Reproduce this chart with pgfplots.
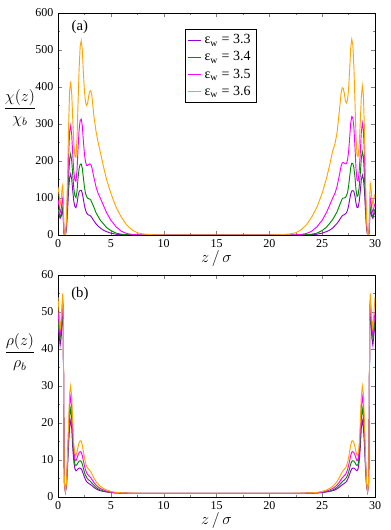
\documentclass[border=0pt]{standalone}
\usepackage{amsmath}
\usepackage{pgfplots}
\pgfplotsset{compat=1.18}
\usepackage{pgfplotstable}
\usepackage{fontspec}
\setmainfont{Liberation Serif}

\definecolor{gviolet}{RGB}{148,0,211}
\definecolor{ggreen}{RGB}{0,139,0}
\definecolor{gmagenta}{RGB}{255,0,255}
\definecolor{gorange}{RGB}{255,165,0}

% chi(z)/chi_b, columns: z, eps=3.3, 3.4, 3.5, 3.6
\pgfplotstableread{
z a b c d
0    60 70 95 130
0.1  55 60 80 110
0.2  45 50 60 80
0.3  50 55 70 95
0.4  62 70 95 130
0.45 65 75 100 135
0.5  48 55 75 100
0.55 8 10 15 20
0.6  1 1 2 2
0.7  0 0 0 0
0.8  18 22 30 40
0.9  65 80 110 150
1.0  120 155 210 290
1.1  155 205 280 390
1.2  165 219 295 415
1.3  150 200 270 380
1.4  118 160 215 310
1.5  90 125 170 245
1.6  77 106 148 212
1.7  74 101 145 210
1.8  85 118 175 260
1.9  105 155 235 360
2.0  117 180 285 450
2.1  121 191 310 510
2.2  121 192 313 525
2.3  113 180 295 500
2.4  97 155 255 440
2.5  80 130 220 390
2.6  68 113 198 360
2.7  60 104 188 350
2.8  56 100 188 355
2.9  54 98 190 375
3.0  53 97 192 388
3.1  51 95 191 390
3.2  47 88 183 378
3.4  38 75 155 320
3.6  30 60 130 280
3.8  24 50 112 250
4.0  19 40 100 225
4.3  13 30 80 185
4.6  9 20 60 150
5.0  5 12 40 113
5.5  2 5 22 75
6.0  0.8 2 10 48
6.5  0.3 0.8 4 27
7.0  0 0.3 1.5 14
7.5  0 0 0.5 6
8.0  0 0 0 3
9.0  0 0 0 0.5
10   0 0 0 0
20   0 0 0 0
21   0 0 0 0.5
22   0 0 0 3
22.5 0 0 0.5 6
23   0 0.3 1.5 14
23.5 0.3 0.8 4 27
24   0.8 2 10 48
24.5 2 5 22 75
25   5 12 40 113
25.4 9 21 60 152
25.7 13 31 80 188
26   19 42 100 228
26.2 25 52 112 245
26.4 31 62 130 275
26.6 39 77 158 328
26.8 48 91 187 386
26.9 52 98 195 398
27.0 54 100 196 396
27.1 55 100 194 382
27.2 57 102 192 362
27.3 60 106 193 357
27.4 67 115 203 365
27.5 79 132 225 395
27.6 95 157 262 445
27.7 111 182 302 505
27.8 119 194 320 529
27.9 120 193 317 515
28.0 117 182 292 455
28.1 106 158 240 365
28.2 86 122 180 265
28.3 74 104 148 215
28.4 75 108 146 212
28.5 89 128 170 240
28.6 116 163 218 300
28.7 148 205 275 370
28.8 162 225 302 403
28.9 152 212 285 380
29.0 120 160 215 285
29.1 65 82 112 150
29.2 18 23 30 40
29.3 0 0 0 0
29.4 1 1 2 2
29.45 8 10 15 20
29.5 48 55 75 100
29.55 65 75 100 140
29.6 62 70 95 135
29.7 50 55 70 100
29.8 45 50 60 80
29.9 55 60 75 100
30   60 70 85 110
}\chitab

% rho(z)/rho_b, same columns
\pgfplotstableread{
z a b c d
0    47 48 50 54
0.1  44 45 47 50
0.2  41 43 44 45
0.3  43 45 46 48
0.4  49 50 51 53
0.45 52 52.5 53.5 55
0.5  45 46 47 48
0.55 20 20 20 20
0.6  4 4 4 4
0.7  1.5 1.5 1.5 1.5
0.8  3 3.2 3.5 3.8
0.9  8 9 10 11
1.0  14 16 18 20
1.1  19 22 25 28
1.2  20.6 23.8 27 30
1.3  18.5 21 24 27
1.4  13 15 17 19.5
1.5  9.5 11 12.5 14
1.6  7.6 8.8 10.2 11.8
1.7  7.1 8.5 9.8 11.2
1.8  7.3 8.8 10.5 12.2
1.9  7.6 9.3 11.4 13.6
2.0  7.8 9.7 12.0 14.7
2.1  7.8 9.8 12.3 15.2
2.2  7.6 9.6 12.1 15.1
2.3  7.0 8.9 11.2 14.0
2.4  6.2 7.8 9.8 12.3
2.5  5.4 6.7 8.5 10.6
2.6  4.7 5.9 7.4 9.3
2.7  4.2 5.3 6.6 8.4
2.8  3.9 4.9 6.1 7.8
2.9  3.7 4.6 5.8 7.5
3.0  3.5 4.4 5.5 7.2
3.1  3.3 4.1 5.2 6.8
3.2  3.1 3.8 4.8 6.3
3.4  2.6 3.2 3.9 5.1
3.6  2.2 2.6 3.2 4.2
3.8  1.9 2.2 2.7 3.5
4.0  1.7 1.9 2.3 2.9
4.3  1.5 1.6 1.9 2.3
4.6  1.35 1.45 1.6 1.9
5.0  1.2 1.25 1.3 1.5
5.5  1.1 1.1 1.15 1.25
6.0  1.05 1.05 1.07 1.12
7.0  1 1 1.02 1.04
8.0  1 1 1 1.01
22   1 1 1 1.01
23   1 1 1.02 1.04
24   1.05 1.05 1.07 1.12
24.5 1.1 1.1 1.15 1.25
25   1.2 1.25 1.3 1.5
25.4 1.35 1.45 1.6 1.9
25.7 1.5 1.6 1.9 2.3
26   1.7 1.9 2.3 2.9
26.2 1.9 2.2 2.7 3.5
26.4 2.2 2.6 3.2 4.2
26.6 2.6 3.2 3.9 5.1
26.8 3.1 3.8 4.8 6.3
26.9 3.3 4.1 5.2 6.8
27.0 3.5 4.4 5.5 7.2
27.1 3.7 4.6 5.8 7.5
27.2 3.9 4.9 6.1 7.8
27.3 4.2 5.3 6.6 8.4
27.4 4.7 5.9 7.4 9.3
27.5 5.4 6.7 8.5 10.6
27.6 6.2 7.8 9.8 12.3
27.7 7.0 8.9 11.2 14.0
27.8 7.6 9.6 12.1 15.1
27.9 7.8 9.8 12.3 15.2
28.0 7.8 9.7 12.0 14.7
28.1 7.6 9.3 11.4 13.6
28.2 7.3 8.8 10.5 12.2
28.3 7.1 8.5 9.8 11.2
28.4 7.6 8.8 10.2 11.8
28.5 9.5 11 12.5 14
28.6 13 15 17 19.5
28.7 18.5 21 24 27
28.8 20.6 23.8 27 30
28.9 19 22 25 28
29.0 14 16 18 20
29.1 8 9 10 11
29.2 3 3.2 3.5 3.8
29.3 1.5 1.5 1.5 1.5
29.4 4 4 4 4
29.45 20 20 20 20
29.5 45 46 47 48
29.55 52 52.5 53.5 55
29.6 49 50 51 53
29.7 43 45 46 48
29.8 41 43 44 45
29.9 44 45 47 50
30   47 48 50 54
}\rhotab

\pgfplotsset{
  panel/.style={
    scale only axis,
    width=237.75pt, height=166.5pt,
    xmin=0, xmax=30, xtick={0,5,...,30},
    minor x tick num=1, minor y tick num=1,
    tick align=inside,
    major tick length=3pt, minor tick length=1.5pt,
    tick label style={font=\fontsize{9}{10}\selectfont},
    /pgf/number format/assume math mode=true,
    label style={font=\fontsize{12}{14}\selectfont},
    xlabel={$z\,/\,\sigma$},
    xlabel style={at={(axis description cs:0.5,-0.105)}, anchor=center},
    every axis plot/.append style={line width=0.7pt, mark=none},
  },
}

\begin{document}
\begin{tikzpicture}
\useasboundingbox (0,0) rectangle (292.5pt,397.5pt);

\begin{axis}[panel,
    at={(43.5pt,221.25pt)}, anchor=south west,
    ymin=0, ymax=600, ytick={0,100,...,600},
    ylabel={$\dfrac{\chi(z)}{\chi_b}$},
    ylabel style={rotate=-90, at={(axis description cs:-0.12,0.572)}, anchor=center},
    legend style={at={(axis description cs:0.4006,0.928)}, anchor=north west,
        draw=black, font=\fontsize{10.5}{12}\selectfont, row sep=0.4pt,
        inner xsep=2pt, inner ysep=2pt},
    legend cell align=left,
    legend image code/.code={\draw[#1] (0pt,0pt) -- (9.75pt,0pt);},
]
\addplot[gviolet] table[x=z, y=a] {\chitab};
\addlegendentry{ε\textsubscript{w} = 3.3}
\addplot[ggreen] table[x=z, y=b] {\chitab};
\addlegendentry{ε\textsubscript{w} = 3.4}
\addplot[gmagenta] table[x=z, y=c] {\chitab};
\addlegendentry{ε\textsubscript{w} = 3.5}
\addplot[gorange] table[x=z, y=d] {\chitab};
\addlegendentry{ε\textsubscript{w} = 3.6}
\node[font=\fontsize{11}{13}\selectfont] at (axis description cs:0.069,0.935) {(a)};
\end{axis}

\begin{axis}[panel,
    at={(43.5pt,24.75pt)}, anchor=south west,
    ymin=0, ymax=60, ytick={0,10,...,60},
    ylabel={$\dfrac{\rho(z)}{\rho_b}$},
    ylabel style={rotate=-90, at={(axis description cs:-0.12,0.652)}, anchor=center},
]
\addplot[gviolet] table[x=z, y=a] {\rhotab};
\addplot[ggreen] table[x=z, y=b] {\rhotab};
\addplot[gmagenta] table[x=z, y=c] {\rhotab};
\addplot[gorange] table[x=z, y=d] {\rhotab};
\node[font=\fontsize{11}{13}\selectfont] at (axis description cs:0.069,0.914) {(b)};
\end{axis}
\end{tikzpicture}
\end{document}
